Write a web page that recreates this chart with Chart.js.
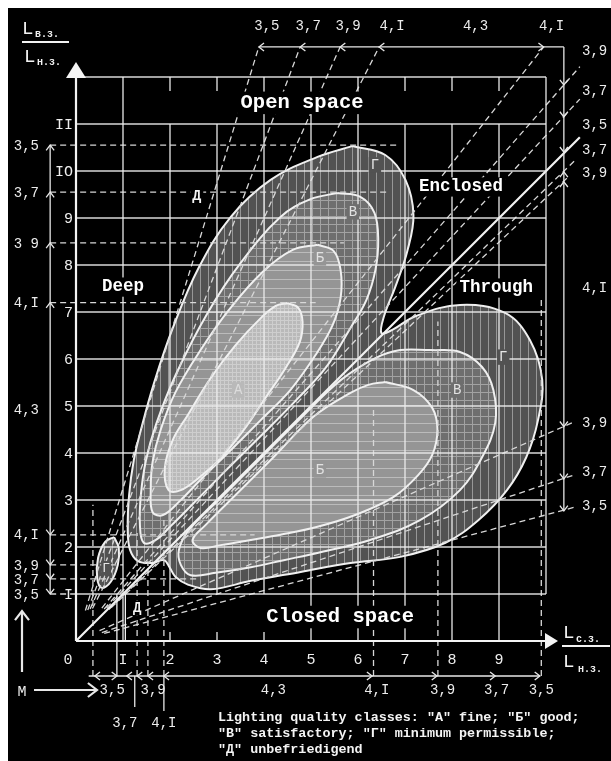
<!DOCTYPE html>
<html>
<head>
<meta charset="utf-8">
<title>Lighting quality classes diagram</title>
<script src="https://cdn.jsdelivr.net/npm/chart.js@4.4.1/dist/chart.umd.min.js"></script>
<style>
  html, body { margin: 0; padding: 0; background: #fff; }
  canvas { display: block; }
</style>
</head>
<body>
<canvas id="diagram" width="611" height="761"></canvas>
<script>
// Tick labels as printed (I = 1, IO = 10, II = 11)
const xTickLabels = ['0', 'I', '2', '3', '4', '5', '6', '7', '8', '9'];
const yTickLabels = ['I', '2', '3', '4', '5', '6', '7', '8', '9', 'IO', 'II'];

// Quality class contours, points are [L_с.з./L_н.з., L_в.з./L_н.з.]
const classG = [[5.88,10.53],[6.58,10.34],[7.01,9.81],[7.18,9.06],[7.05,8.30],[6.80,7.55],[6.55,6.90],[6.50,6.55],[6.73,6.62],[7.22,6.91],[8.17,7.15],[9.13,6.98],[9.66,6.40],[9.92,5.55],[9.83,4.70],[9.58,3.91],[9.17,3.21],[8.56,2.57],[7.86,2.09],[6.90,1.79],[5.84,1.66],[4.78,1.47],[3.72,1.28],[2.87,1.10],[2.38,1.20],[2.12,1.36],[2.00,1.55],[1.87,1.72],[1.63,1.66],[1.32,1.70],[1.15,1.94],[1.10,2.36],[1.13,3.11],[1.23,3.85],[1.38,4.49],[1.66,5.49],[2.06,6.66],[2.61,7.94],[3.29,9.02],[4.14,9.81],[5.14,10.30],[5.88,10.53]];
const classGsmall = [[0.81,2.21],[0.91,1.98],[0.89,1.62],[0.74,1.26],[0.55,1.13],[0.45,1.34],[0.47,1.77],[0.62,2.11],[0.81,2.21]];
const classVdeep = [[5.56,9.53],[6.05,9.45],[6.35,9.11],[6.43,8.53],[6.37,7.89],[6.18,7.26],[5.84,6.66],[5.31,5.81],[4.67,5.11],[3.93,4.36],[3.18,3.62],[2.48,2.91],[2.02,2.45],[1.70,2.15],[1.44,2.09],[1.36,2.47],[1.38,3.11],[1.49,3.85],[1.70,4.60],[2.12,5.66],[2.80,6.98],[3.50,8.04],[4.35,9.02],[4.99,9.40],[5.56,9.53]];
const classVthrough = [[7.54,6.19],[8.17,6.15],[8.64,5.83],[8.88,5.34],[8.92,4.64],[8.64,3.91],[8.17,3.21],[7.32,2.57],[6.26,2.15],[5.20,1.89],[4.42,1.72],[3.72,1.57],[2.97,1.45],[2.44,1.40],[2.23,1.62],[2.19,1.94],[2.40,2.36],[3.08,3.04],[3.93,3.89],[4.78,4.74],[5.63,5.55],[6.37,6.02],[6.90,6.19],[7.54,6.19]];
const classBdeep = [[5.14,8.43],[5.48,8.30],[5.63,7.89],[5.63,7.30],[5.46,6.72],[5.10,6.09],[4.56,5.34],[3.93,4.70],[3.29,4.06],[2.65,3.43],[2.19,2.96],[1.85,2.68],[1.63,2.74],[1.59,3.21],[1.63,3.81],[1.80,4.49],[2.12,5.30],[2.65,6.19],[3.25,7.04],[3.97,7.85],[4.61,8.32],[5.14,8.43]];
const classBthrough = [[6.58,5.51],[7.18,5.34],[7.58,4.96],[7.69,4.49],[7.58,3.96],[7.28,3.53],[6.75,3.06],[5.94,2.68],[5.14,2.43],[4.35,2.26],[3.72,2.15],[3.08,2.04],[2.65,1.98],[2.48,2.15],[2.76,2.47],[3.40,3.11],[4.20,3.91],[5.05,4.77],[5.84,5.28],[6.22,5.45],[6.58,5.51]];
const classA = [[4.50,7.19],[4.73,7.09],[4.82,6.79],[4.76,6.36],[4.46,5.81],[4.03,5.17],[3.57,4.49],[3.08,3.89],[2.61,3.47],[2.23,3.21],[1.97,3.21],[1.89,3.68],[2.06,4.28],[2.38,4.81],[2.87,5.60],[3.40,6.30],[3.93,6.87],[4.25,7.13],[4.50,7.19]];

// Lines of equal M (dashed), each as [start, end]
const raysDeep = [
  [[0.20, 0.65], [3.89, 12.64]],   // 3,5
  [[0.25, 0.66], [4.77, 12.64]],   // 3,7
  [[0.30, 0.68], [5.62, 12.64]],   // 3,9
  [[0.35, 0.69], [6.45, 12.64]]    // 4,I
];
const raysEnclosed = [
  [[0.55, 0.70], [9.95, 12.64]],   // 4,I
  [[0.60, 0.68], [10.72, 12.22]],  // 3,9
  [[0.65, 0.70], [10.72, 11.53]],  // 3,7
  [[0.70, 0.67], [10.60, 10.21]],  // 3,7
  [[0.75, 0.71], [10.50, 9.90]]    // 3,9
];
const diagonal = [[0, 0], [10.72, 10.72]]; // 3,5
const raysThrough = [
  [[0.50, 0.22], [10.62, 4.67]],   // 3,9
  [[0.55, 0.18], [10.62, 3.54]],   // 3,7
  [[0.60, 0.16], [10.62, 2.85]]    // 3,5
];
const levelLinesLeft = [
  [[-0.55, 10.55], [6.87, 10.55]],
  [[-0.55, 9.55], [6.60, 9.55]],
  [[-0.55, 8.47], [5.70, 8.47]],
  [[-0.55, 7.20], [5.10, 7.20]],
  [[-0.55, 2.26], [3.80, 2.26]],
  [[-0.55, 1.62], [1.00, 1.62]],
  [[-0.55, 1.32], [2.60, 1.32]],
  [[-0.55, 1.00], [0.00, 1.00]]
];
const levelLinesBottom = [
  [[0.36, -0.745], [0.36, 2.90]],
  [[1.30, -0.745], [1.30, 2.30]],
  [[1.53, -0.745], [1.53, 1.70]],
  [[1.87, -0.745], [1.87, 2.60]],
  [[6.33, -0.745], [6.33, 4.95]],
  [[7.70, -0.745], [7.70, 6.80]],
  [[9.90, -0.745], [9.90, 7.30]]
];
const scaleLinesSolid = [
  [[0.87, -0.745], [0.87, 1.00]],
  [[1.05, 0.00], [1.05, 1.00]]
];

// M scales around the field
const mLeftY = [10.55, 9.55, 8.47, 7.20, 2.26, 1.62, 1.32, 1.00];
const mLeftText = ['3,5', '3,7', '3 9', '4,I', '4,I', '3,9', '3,7', '3,5'];
const mTopX = [3.89, 4.77, 5.62, 6.45, 9.95];
const mTopText = ['3,5', '3,7', '3,9', '4,I', '4,I'];
const mRightY = [11.83, 11.15, 10.40, 9.98, 9.77, 4.56, 3.45, 2.77];
const mRightLabelY = [12.55, 11.70, 10.97, 10.43, 9.96, 4.63, 3.58, 2.87];
const mRightText = ['3,9', '3,7', '3,5', '3,7', '3,9', '3,9', '3,7', '3,5'];
const mBottomX = [0.40, 0.87, 1.08, 1.30, 1.53, 1.87, 6.30, 7.68, 8.92, 9.87];
const mBottomLabelX = [0.77, 1.64, 1.04, 1.87, 4.20, 6.40, 7.80, 8.95, 9.90];
const mBottomText = ['3,5', '3,9', '3,7', '4,I', '4,3', '4,I', '3,9', '3,7', '3,5'];
const mBottomRow = [0, 0, 1, 1, 0, 0, 0, 0, 0];

const legendLines = [
  'Lighting quality classes: "A" fine; "Б" good;',
  '"В" satisfactory; "Г" minimum permissible;',
  '"Д" unbefriedigend'
];

const canvas = document.getElementById('diagram');
const ctx0 = canvas.getContext('2d');

// hatch fills for the class zones
function tile(size, base, painter) {
  const t = document.createElement('canvas');
  t.width = t.height = size;
  const g = t.getContext('2d');
  g.fillStyle = base;
  g.fillRect(0, 0, size, size);
  painter(g, size);
  return ctx0.createPattern(t, 'repeat');
}
const fillG = tile(8, '#525252', (g, s) => { g.fillStyle = 'rgba(255,255,255,0.40)'; g.fillRect(0, 0, 1, s); });
const fillV = tile(8, '#6e6e6e', (g, s) => { g.fillStyle = 'rgba(255,255,255,0.36)'; g.fillRect(0, 0, 1, s); g.fillRect(1, 0, s - 1, 1); });
const fillB = tile(9, '#959595', (g, s) => { g.fillStyle = 'rgba(255,255,255,0.36)'; g.fillRect(0, 0, s, 1); });
const fillA = tile(4, '#b9b9b9', (g, s) => { g.fillStyle = 'rgba(255,255,255,0.30)'; g.fillRect(0, 0, 1, s); g.fillRect(1, 0, s - 1, 1); });

const pts = arr => arr.map(([x, y]) => ({ x, y }));
const zone = (data, fill, order) => ({
  data: pts(data), showLine: true, fill: 'shape', backgroundColor: fill,
  borderColor: '#f0f0f0', borderWidth: 2, tension: 0.38, pointRadius: 0, order, clip: false
});
const dashed = (seg, order) => ({
  data: pts(seg), showLine: true, fill: false, borderColor: '#d8d8d8', borderWidth: 1.3,
  borderDash: [6, 4], tension: 0, pointRadius: 0, order, clip: false
});
const solid = (seg, width, order) => ({
  data: pts(seg), showLine: true, fill: false, borderColor: '#f2f2f2', borderWidth: width,
  tension: 0, pointRadius: 0, order, clip: false
});

const datasets = [
  zone(classG, fillG, 100),
  zone(classGsmall, fillG, 99),
  zone(classVdeep, fillV, 90),
  zone(classVthrough, fillV, 89),
  zone(classBdeep, fillB, 80),
  zone(classBthrough, fillB, 79),
  zone(classA, fillA, 70),
  ...raysDeep.map(s => dashed(s, 20)),
  ...raysEnclosed.map(s => dashed(s, 20)),
  ...raysThrough.map(s => dashed(s, 20)),
  ...levelLinesLeft.map(s => dashed(s, 20)),
  ...levelLinesBottom.map(s => dashed(s, 20)),
  ...scaleLinesSolid.map(s => solid(s, 1.3, 15)),
  solid(diagonal, 2.2, 10)
];

const MONO = "'Liberation Mono', 'DejaVu Sans Mono', monospace";

const frame = {
  id: 'frame',
  beforeDraw(chart) {
    const c = chart.ctx;
    c.save();
    c.fillStyle = '#ffffff';
    c.fillRect(0, 0, chart.width, chart.height);
    c.fillStyle = '#000000';
    c.fillRect(8, 8, chart.width - 8, chart.height - 8);
    c.restore();
  },
  afterDatasetsDraw(chart) {
    const c = chart.ctx, sx = chart.scales.x, sy = chart.scales.y;
    const X = v => sx.getPixelForValue(v), Y = v => sy.getPixelForValue(v);
    const line = (x1, y1, x2, y2) => { c.beginPath(); c.moveTo(x1, y1); c.lineTo(x2, y2); c.stroke(); };
    c.save();
    c.strokeStyle = 'rgba(235,235,235,0.92)';
    c.lineWidth = 1.4;
    for (let j = 1; j <= 12; j++) line(X(0), Y(j), X(10), Y(j));
    line(X(10), Y(12), X(10), Y(1));
    for (let i = 1; i <= 9; i++) {
      line(X(i), Y(1), X(i), Y(11));
      if ([1, 4, 5, 6].includes(i)) line(X(i), Y(11), X(i), Y(12));
      else line(X(i), Y(12), X(i), Y(12) + 14);
      if ([1, 5, 6, 7, 8, 9].includes(i)) line(X(i), Y(0), X(i), Y(1));
      else line(X(i), Y(0), X(i), Y(0) - 9);
    }
    // axes with arrowheads
    c.strokeStyle = '#f4f4f4';
    c.fillStyle = '#f4f4f4';
    c.lineWidth = 2.2;
    line(X(0), Y(0), X(0), Y(12) - 4);
    line(X(0), Y(0), X(10), Y(0));
    c.beginPath(); c.moveTo(X(0), Y(12) - 15); c.lineTo(X(0) - 10, Y(12) + 1); c.lineTo(X(0) + 10, Y(12) + 1); c.closePath(); c.fill();
    c.beginPath(); c.moveTo(X(10) + 12, Y(0)); c.lineTo(X(10) - 1, Y(0) - 8); c.lineTo(X(10) - 1, Y(0) + 8); c.closePath(); c.fill();
    c.restore();
  },
  afterDraw(chart) {
    const c = chart.ctx, sx = chart.scales.x, sy = chart.scales.y;
    const X = v => sx.getPixelForValue(v), Y = v => sy.getPixelForValue(v);
    const line = (x1, y1, x2, y2) => { c.beginPath(); c.moveTo(x1, y1); c.lineTo(x2, y2); c.stroke(); };
    const chev = (x, y, dir, s = 4) => {
      c.beginPath();
      if (dir === 'up') { c.moveTo(x - s, y + s * 1.3); c.lineTo(x, y); c.lineTo(x + s, y + s * 1.3); }
      else if (dir === 'down') { c.moveTo(x - s, y - s * 1.3); c.lineTo(x, y); c.lineTo(x + s, y - s * 1.3); }
      else if (dir === 'left') { c.moveTo(x + s * 1.3, y - s); c.lineTo(x, y); c.lineTo(x + s * 1.3, y + s); }
      else { c.moveTo(x - s * 1.3, y - s); c.lineTo(x, y); c.lineTo(x - s * 1.3, y + s); }
      c.stroke();
    };
    const text = (t, x, y, font, color, align = 'center') => {
      c.font = font; c.fillStyle = color; c.textAlign = align; c.textBaseline = 'middle';
      c.fillText(t, x, y);
    };
    const boxed = (t, x, y, size, bold, color, bg, pad) => {
      c.font = (bold ? 'bold ' : '') + size + 'px ' + MONO;
      const w = c.measureText(t).width;
      c.fillStyle = bg;
      c.fillRect(x - w / 2 - pad, y - size * 0.55, w + 2 * pad, size * 1.1);
      c.fillStyle = color; c.textAlign = 'center'; c.textBaseline = 'middle';
      c.fillText(t, x, y);
    };

    c.save();
    c.strokeStyle = '#e8e8e8';
    c.lineWidth = 1.3;

    // left M scale
    const lx = X(-0.55);
    line(lx, Y(mLeftY[0]), lx, Y(mLeftY[mLeftY.length - 1]));
    mLeftY.forEach((v, i) => chev(lx, Y(v), i < 4 ? 'up' : 'down'));
    // top and right M scale
    const ty = Y(12.64), rx = X(10.38);
    line(X(mTopX[0]), ty, rx, ty);
    line(rx, ty, rx, Y(mRightY[mRightY.length - 1]));
    mTopX.forEach((v, i) => chev(X(v), ty, i < 4 ? 'left' : 'right'));
    mRightY.forEach((v, i) => chev(rx, Y(v), (i === 3 || i === 4) ? 'up' : 'down'));
    // bottom M scale
    const by = Y(-0.745);
    line(X(0.27), by, X(mBottomX[mBottomX.length - 1]), by);
    mBottomX.forEach((v, i) => chev(X(v), by, (i === 1 || i >= 6) ? 'right' : 'left'));
    line(X(1.25), by, X(1.25), by + 31);
    line(X(1.87), by, X(1.87), by + 35);

    // M indicator
    c.lineWidth = 2.2;
    line(22, 672, 22, 612);
    chev(22, 611, 'up', 7);
    line(34, 690, 96, 690);
    chev(97, 690, 'right', 7);

    // scale numbers
    const f14 = '14px ' + MONO, f15 = '15px ' + MONO;
    mLeftY.forEach((v, i) => text(mLeftText[i], 39, Y(v) + 1, f14, '#ececec', 'right'));
    text('4,3', 39, Y(4.9), f14, '#ececec', 'right');
    mTopX.forEach((v, i) => text(mTopText[i], X(v) + (i === 3 ? 13 : 8), 26, f14, '#ececec'));
    text('4,3', X(8.5), 26, f14, '#ececec');
    mRightLabelY.forEach((v, i) => text(mRightText[i], 582, Y(v), f14, '#ececec', 'left'));
    text('4,I', 582, Y(7.5), f14, '#ececec', 'left');
    mBottomLabelX.forEach((v, i) => text(mBottomText[i], X(v), mBottomRow[i] ? 723 : 690, f14, '#ececec'));

    // axis tick labels
    xTickLabels.forEach((t, i) => text(t, i === 0 ? X(0) - 8 : X(i), Y(0) + 19, f15, '#eeeeee'));
    yTickLabels.forEach((t, j) => text(t, 73, Y(j + 1) + 1, f15, '#eeeeee', 'right'));
    text('M', 22, 692, f15, '#eeeeee');

    // axis titles
    c.fillStyle = '#f2f2f2'; c.textBaseline = 'alphabetic'; c.textAlign = 'left';
    c.font = '19px ' + MONO; c.fillText('L', 22, 34);
    c.font = 'bold 10px ' + MONO; c.fillText('в.з.', 35, 37);
    c.fillRect(22, 41, 47, 2);
    c.font = '19px ' + MONO; c.fillText('L', 24, 62);
    c.font = 'bold 10px ' + MONO; c.fillText('н.з.', 37, 65);
    c.font = '19px ' + MONO; c.fillText('L', 563, 638);
    c.font = 'bold 10px ' + MONO; c.fillText('с.з.', 576, 642);
    c.fillRect(562, 645, 48, 2);
    c.font = '19px ' + MONO; c.fillText('L', 563, 667);
    c.font = 'bold 10px ' + MONO; c.fillText('н.з.', 578, 672);

    // zone names
    boxed('Open space', X(4.81), Y(11.45), 20.5, true, '#ffffff', '#000', 3);
    boxed('Enclosed', X(8.19), Y(9.66), 17.5, true, '#ffffff', '#000', 3);
    boxed('Deep', X(1.0), Y(7.53), 17.5, true, '#ffffff', '#000', 3);
    boxed('Through', X(8.94), Y(7.51), 17.5, true, '#ffffff', '#000', 3);
    boxed('Closed space', X(5.62), Y(0.51), 20.5, true, '#ffffff', '#000', 3);

    // class letters
    boxed('A', X(3.45), Y(5.34), 14, false, '#dcdcdc', '#b9b9b9', 2);
    boxed('Б', X(5.19), Y(8.15), 14, false, '#e2e2e2', '#959595', 2);
    boxed('В', X(5.89), Y(9.13), 14, false, '#e2e2e2', '#6e6e6e', 2);
    boxed('Г', X(6.36), Y(10.13), 14, false, '#e6e6e6', '#525252', 2);
    boxed('Д', X(2.57), Y(9.47), 15, true, '#f4f4f4', '#000', 2);
    boxed('Б', X(5.19), Y(3.64), 14, false, '#e2e2e2', '#959595', 2);
    boxed('В', X(8.11), Y(5.34), 14, false, '#e2e2e2', '#6e6e6e', 2);
    boxed('Г', X(9.09), Y(6.04), 14, false, '#e6e6e6', '#525252', 2);
    boxed('Г', X(0.64), Y(1.55), 13, false, '#e6e6e6', '#525252', 1);
    boxed('Д', X(1.30), Y(0.70), 14, true, '#f4f4f4', '#000', 2);

    // class key
    c.font = 'bold 13.4px ' + MONO; c.fillStyle = '#f4f4f4';
    c.textAlign = 'left'; c.textBaseline = 'middle';
    legendLines.forEach((t, i) => c.fillText(t, 218, 718 + i * 16));
    c.restore();
  }
};

new Chart(canvas, {
  type: 'scatter',
  data: { datasets },
  options: {
    responsive: false,
    animation: false,
    devicePixelRatio: 1,
    events: [],
    layout: { padding: { left: 76, right: 65, top: 77, bottom: 120 }, autoPadding: false },
    scales: {
      x: { type: 'linear', min: 0, max: 10, display: false },
      y: { type: 'linear', min: 0, max: 12, display: false }
    },
    plugins: { legend: { display: false }, tooltip: { enabled: false } }
  },
  plugins: [frame]
});
</script>
</body>
</html>
